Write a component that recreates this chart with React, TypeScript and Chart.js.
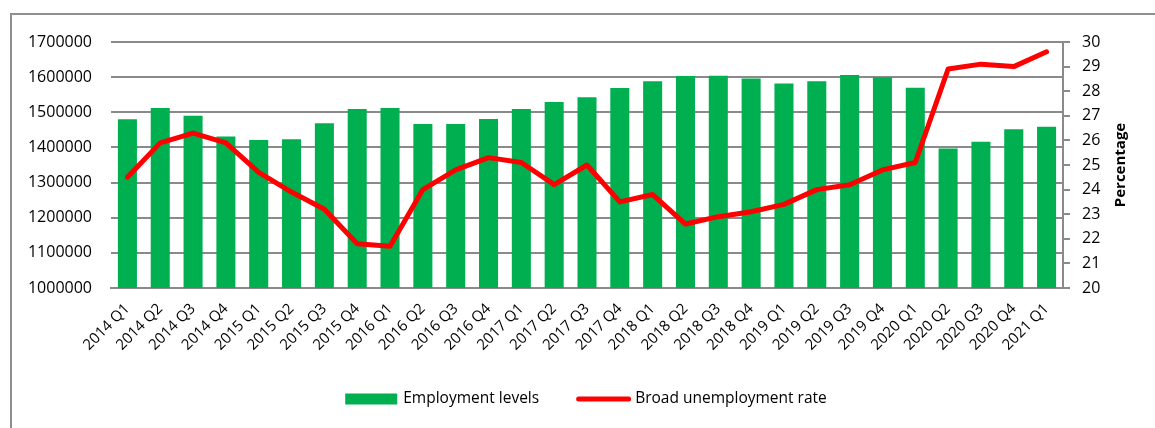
import React, { useEffect, useRef } from 'react';
import { Chart, registerables } from 'chart.js';

Chart.register(...registerables);

const categories = [
  '2014 Q1', '2014 Q2', '2014 Q3', '2014 Q4',
  '2015 Q1', '2015 Q2', '2015 Q3', '2015 Q4',
  '2016 Q1', '2016 Q2', '2016 Q3', '2016 Q4',
  '2017 Q1', '2017 Q2', '2017 Q3', '2017 Q4',
  '2018 Q1', '2018 Q2', '2018 Q3', '2018 Q4',
  '2019 Q1', '2019 Q2', '2019 Q3', '2019 Q4',
  '2020 Q1', '2020 Q2', '2020 Q3', '2020 Q4',
  '2021 Q1',
];

const employmentLevels = [
  1480000, 1512000, 1490000, 1431000,
  1421000, 1423000, 1469000, 1509000,
  1512000, 1467000, 1467000, 1481000,
  1509000, 1529000, 1543000, 1569000,
  1588000, 1603000, 1604000, 1596000,
  1582000, 1588000, 1606000, 1600000,
  1570000, 1397000, 1416000, 1452000,
  1459000,
];

const broadUnemploymentRate = [
  24.5, 25.9, 26.3, 25.9,
  24.7, 23.9, 23.2, 21.8,
  21.7, 24.0, 24.8, 25.3,
  25.1, 24.2, 25.0, 23.5,
  23.8, 22.6, 22.9, 23.1,
  23.4, 24.0, 24.2, 24.8,
  25.1, 28.9, 29.1, 29.0,
  29.6,
];

const leftTicks = [1000000, 1100000, 1200000, 1300000, 1400000, 1500000, 1600000, 1700000];
const rightTicks = [20, 21, 22, 23, 24, 25, 26, 27, 28, 29, 30];

const seriesNames = ['Employment levels', 'Broad unemployment rate'];
const rightAxisTitle = 'Percentage';

const GREEN = '#00B050';
const RED = '#FF0000';
const GRID = '#8a8a8a';
const FONT = '"Open Sans", "Noto Sans", sans-serif';

const rightTitlePlugin = {
  id: 'rightTitle',
  afterDraw(chart: any) {
    const ctx = chart.ctx;
    const s = chart.scales.y1;
    const { top, bottom } = chart.chartArea;
    ctx.save();
    ctx.translate(s.right - 34, (top + bottom) / 2);
    ctx.rotate(-Math.PI / 2);
    ctx.font = `bold 15px ${FONT}`;
    ctx.fillStyle = '#000';
    ctx.textAlign = 'center';
    ctx.textBaseline = 'middle';
    ctx.fillText(rightAxisTitle, 0, 0);
    ctx.restore();
  },
};

const legendPlugin = {
  id: 'bottomLegend',
  afterDraw(chart: any) {
    const ctx = chart.ctx;
    const { left, right } = chart.chartArea;
    ctx.save();
    ctx.font = `15.5px ${FONT}`;
    const w1 = ctx.measureText(seriesNames[0]).width;
    const w2 = ctx.measureText(seriesNames[1]).width;
    const boxW = 52, lineW = 55, gapText = 6, gapItems = 37;
    const total = boxW + gapText + w1 + gapItems + lineW + gapText + w2;
    let x = (left + right) / 2 - total / 2;
    const y = chart.height - 29;
    ctx.fillStyle = GREEN;
    ctx.fillRect(x, y - 5.5, boxW, 11);
    x += boxW + gapText;
    ctx.fillStyle = '#000';
    ctx.textAlign = 'left';
    ctx.textBaseline = 'middle';
    ctx.fillText(seriesNames[0], x, y);
    x += w1 + gapItems;
    ctx.strokeStyle = RED;
    ctx.lineWidth = 5;
    ctx.lineCap = 'round';
    ctx.beginPath();
    ctx.moveTo(x + 2.5, y);
    ctx.lineTo(x + lineW - 2.5, y);
    ctx.stroke();
    x += lineW + gapText - 2;
    ctx.fillText(seriesNames[1], x, y);
    ctx.restore();
  },
};

export default function App() {
  const ref = useRef<HTMLCanvasElement | null>(null);

  useEffect(() => {
    if (!ref.current) return;
    const chart = new Chart(ref.current, {
      type: 'bar',
      data: {
        labels: categories,
        datasets: [
          {
            type: 'bar',
            label: seriesNames[0],
            data: employmentLevels,
            backgroundColor: GREEN,
            borderWidth: 0,
            yAxisID: 'y',
            order: 1,
            barPercentage: 0.58,
            categoryPercentage: 1,
          },
          {
            type: 'line',
            label: seriesNames[1],
            data: broadUnemploymentRate,
            borderColor: RED,
            backgroundColor: RED,
            borderWidth: 5,
            pointRadius: 0,
            tension: 0,
            borderJoinStyle: 'round',
            borderCapStyle: 'round',
            yAxisID: 'y1',
            order: 0,
          } as any,
        ],
      },
      options: {
        responsive: false,
        animation: false,
        layout: { padding: { top: 42, left: 0, right: 0, bottom: 60 } },
        plugins: {
          legend: { display: false },
          tooltip: { enabled: false },
        },
        scales: {
          x: {
            grid: { display: false },
            border: { display: true, color: GRID, width: 2 },
            ticks: {
              autoSkip: false,
              maxRotation: 45,
              minRotation: 45,
              color: '#000',
              font: { family: FONT, size: 15 },
              padding: 4,
            },
            afterFit: (s: any) => { s.height = 80; },
          },
          y: {
            position: 'left',
            min: leftTicks[0],
            max: leftTicks[leftTicks.length - 1],
            afterBuildTicks: (s: any) => { s.ticks = leftTicks.map((v) => ({ value: v })); },
            grid: { color: GRID, lineWidth: 2, drawTicks: false },
            border: { display: false },
            ticks: {
              color: '#000',
              font: { family: FONT, size: 16 },
              padding: 19,
              callback: (v: any) => String(v),
            },
            afterFit: (s: any) => { s.width = 111; },
          },
          y1: {
            position: 'right',
            min: rightTicks[0],
            max: rightTicks[rightTicks.length - 1],
            afterBuildTicks: (s: any) => { s.ticks = rightTicks.map((v) => ({ value: v })); },
            grid: { drawOnChartArea: false, drawTicks: true, tickLength: 7, color: GRID, lineWidth: 2 },
            border: { display: true, color: GRID, width: 2 },
            ticks: {
              color: '#000',
              font: { family: FONT, size: 16 },
              padding: 12,
              callback: (v: any) => String(v),
            },
            afterFit: (s: any) => { s.width = 92; },
          },
        },
      },
      plugins: [rightTitlePlugin, legendPlugin],
    });
    return () => chart.destroy();
  }, []);

  return (
    <div style={{ position: 'fixed', left: 0, top: 0, width: 1155, height: 428, background: '#fff' }}>
      <div
        style={{
          position: 'absolute',
          left: 10,
          top: 13,
          width: 1160,
          height: 440,
          borderLeft: '2px solid #8f8f8f',
          borderTop: '2px solid #8f8f8f',
          boxSizing: 'border-box',
        }}
      />
      <canvas ref={ref} width={1155} height={428} style={{ position: 'absolute', left: 0, top: 0, display: 'block' }} />
    </div>
  );
}
